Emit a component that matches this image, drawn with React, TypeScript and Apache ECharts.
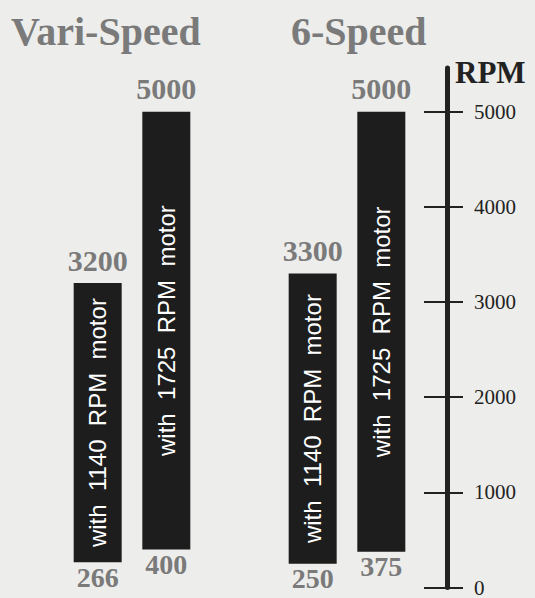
import React, { useEffect, useRef } from "react";
import * as echarts from "echarts";

const groups = ["Vari-Speed", "6-Speed"];
const motor1140Low = [266, 250];
const motor1140High = [3200, 3300];
const motor1725Low = [400, 375];
const motor1725High = [5000, 5000];
const motorTexts = ["with  1140  RPM  motor", "with  1725  RPM  motor"];
const rpmTicks = [0, 1000, 2000, 3000, 4000, 5000];
const axisTitle = "RPM";

const BAR = "#1d1d1d";
const GRAY = "#7a7a7a";
const INK = "#222222";

function rangeSeries(stack: string, low: number[], high: number[], text: string) {
  const valueLabel = {
    fontFamily: "Liberation Serif",
    fontWeight: "bold" as const,
    color: GRAY,
  };
  const common = {
    type: "bar" as const,
    stack,
    barWidth: 48,
    barGap: "43%",
    silent: true,
  };
  return [
    {
      ...common,
      name: stack + "-base",
      data: low,
      itemStyle: { color: "transparent" },
      label: {
        show: true,
        position: "insideTop",
        distance: 1,
        formatter: (p: any) => String(low[p.dataIndex]),
        fontSize: 28,
        ...valueLabel,
      },
    },
    {
      ...common,
      name: stack + "-range",
      data: high.map((h, i) => h - low[i]),
      itemStyle: { color: BAR },
      label: {
        show: true,
        position: "inside",
        rotate: 90,
        formatter: () => text,
        fontFamily: "Liberation Sans",
        fontSize: 24,
        color: "#ffffff",
      },
    },
    {
      ...common,
      name: stack + "-cap",
      data: high.map(() => 0),
      itemStyle: { color: BAR },
      label: {
        show: true,
        position: "top",
        distance: 8,
        formatter: (p: any) => String(high[p.dataIndex]),
        fontSize: 30,
        ...valueLabel,
      },
    },
  ];
}

export default function App() {
  const ref = useRef<HTMLDivElement>(null);

  useEffect(() => {
    if (!ref.current) return;
    const chart = echarts.init(ref.current, null, { renderer: "svg" });
    const yBase = {
      type: "value" as const,
      position: "right" as const,
      offset: -7.5,
      min: 0,
      max: 5460,
      interval: 1000,
      splitLine: { show: false },
    };
    chart.setOption({
      animation: false,
      backgroundColor: "#ededeb",
      grid: { left: 24.5, right: 80.5, top: 68, bottom: 8 },
      xAxis: {
        type: "category",
        data: groups,
        show: false,
      },
      yAxis: [
        {
          ...yBase,
          axisLine: { show: true, lineStyle: { color: INK, width: 5 } },
          axisTick: {
            show: true,
            inside: true,
            length: 23,
            customValues: rpmTicks,
            lineStyle: { color: INK, width: 2 },
          },
          axisLabel: {
            show: true,
            customValues: rpmTicks,
            margin: 27,
            formatter: (v: number) => String(v),
            fontFamily: "Liberation Serif",
            fontSize: 21,
            color: INK,
          },
        },
        {
          ...yBase,
          axisLine: { show: false },
          axisTick: {
            show: true,
            inside: false,
            length: 16,
            customValues: rpmTicks,
            lineStyle: { color: INK, width: 2 },
          },
          axisLabel: { show: false },
        },
      ],
      graphic: [
        {
          type: "text",
          x: 11,
          y: 31.5,
          style: {
            text: groups[0],
            fontFamily: "Liberation Serif",
            fontWeight: "bold",
            fontSize: 40,
            fill: GRAY,
            verticalAlign: "middle",
          },
        },
        {
          type: "text",
          x: 291,
          y: 31.5,
          style: {
            text: groups[1],
            fontFamily: "Liberation Serif",
            fontWeight: "bold",
            fontSize: 40,
            fill: GRAY,
            verticalAlign: "middle",
          },
        },
        {
          type: "text",
          x: 455,
          y: 72.5,
          style: {
            text: axisTitle,
            fontFamily: "Liberation Serif",
            fontWeight: "bold",
            fontSize: 31,
            fill: INK,
            verticalAlign: "middle",
          },
        },
      ],
      series: [
        ...rangeSeries("m1140", motor1140Low, motor1140High, motorTexts[0]),
        ...rangeSeries("m1725", motor1725Low, motor1725High, motorTexts[1]),
      ],
    });
    return () => chart.dispose();
  }, []);

  return (
    <div
      ref={ref}
      style={{ position: "fixed", left: 0, top: 0, width: 535, height: 598 }}
    />
  );
}
